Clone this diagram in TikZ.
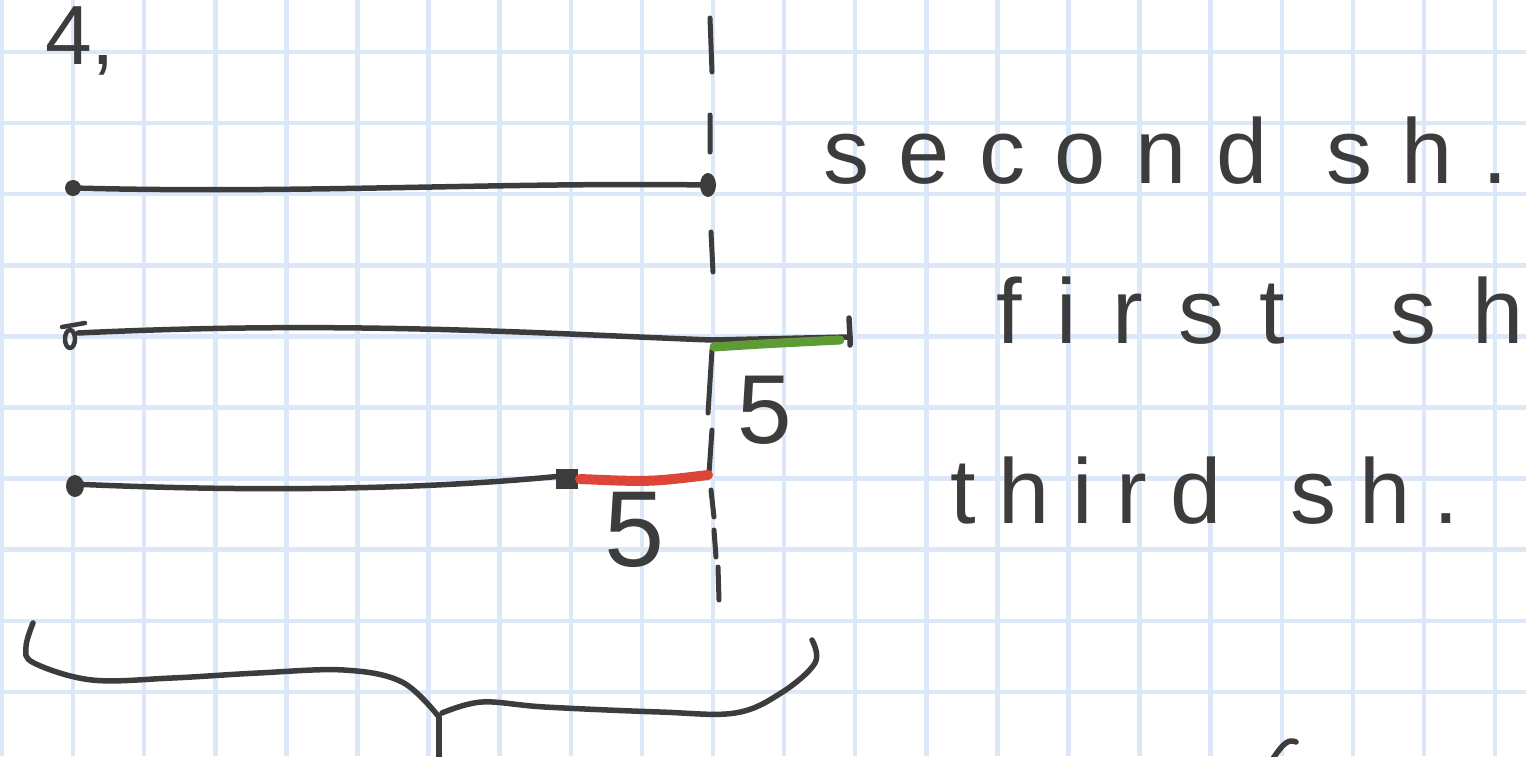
\documentclass[tikz,border=0pt]{standalone}
\usepackage{fontspec}
\setmainfont{Liberation Sans}
\definecolor{gridc}{HTML}{DCE8F8}
\definecolor{inkc}{HTML}{3C3C3C}
\definecolor{greenc}{HTML}{5E9B36}
\definecolor{redc}{HTML}{DC4538}
\tikzset{
  gridline/.style={draw=gridc, line width=4.5pt},
  ink/.style={draw=inkc, line width=5.5pt, line cap=round, line join=round},
  dashink/.style={draw=inkc, line width=5pt, line cap=round},
  greenline/.style={draw=greenc, line width=9pt, line cap=round},
  redline/.style={draw=redc, line width=10pt, line cap=round},
  txt/.style={text=inkc, inner sep=0pt, font=\fontsize{92}{92}\selectfont},
}
\begin{document}
\begin{tikzpicture}[x=1pt,y=-1pt]
\useasboundingbox (0,0) rectangle (1526,756);
\fill[white] (0,0) rectangle (1526,756);
\begin{scope}
\clip (0,0) rectangle (1526,756);
\foreach \k in {0,...,9} \draw[gridline] (0,52+71.1*\k) -- (1526,52+71.1*\k);
\foreach \k in {0,...,21} \draw[gridline] (2+71.1*\k,0) -- (2+71.1*\k,756);
\end{scope}

% heading
\node[txt, anchor=base west, font=\fontsize{84}{84}\selectfont] (n4) at (45,64) {4,};

% dashed vertical
\draw[dashink] (710,18) -- (712,72) (710,115) -- (710,152) (711,232) -- (713,272)
  (712,350) -- (708,413) (712,430) -- (709,473) (711,490) -- (714,517)
  (714,530) -- (716,557) (718,567) -- (719,600);

% segment 1 (second sh.)
\coordinate (s1a) at (73,188);
\coordinate (s1b) at (708,185);
\draw[ink] (s1a) .. controls (300,194) and (500,182) .. (s1b);
\fill[inkc] (s1a) circle (8);
\fill[inkc] (s1b) ellipse (8 and 12);

% segment 2 (first sh)
\coordinate (s2a) at (78,333);
\coordinate (s2m) at (712,340);
\coordinate (s2b) at (850,337);
\draw[ink] (s2a) .. controls (350,320) and (550,334) .. (s2m) -- (s2b);
\draw[ink] (849,318) -- (s2b) -- (850,345);
\draw[ink, line width=4.5pt] (62,327) -- (85,323);
\draw[ink, line width=4.5pt] (70,339) ellipse (5 and 9);

\coordinate (g1) at (714,347);
\coordinate (g2) at (840,340);
\draw[greenline] (g1) .. controls (760,344) .. (g2);

% segment 3 (third sh.)
\coordinate (s3a) at (73,484);
\coordinate (s3b) at (562,476);
\draw[ink] (s3a) .. controls (250,492) and (420,490) .. (s3b);
\fill[inkc] (556,469) rectangle (578,489);
\fill[inkc] (75,486) ellipse (9 and 11);
\coordinate (r1) at (580,479);
\coordinate (r2) at (708,475);
\draw[redline] (r1) .. controls (650,482) .. (r2);

% labels 5
\node[txt, font=\fontsize{98}{98}\selectfont] (f5g) at (765,410) {5};
\node[txt, font=\fontsize{108}{108}\selectfont] (f5r) at (635,530) {5};

% words
\node[txt, anchor=base west] (tsec) at (823,183)
  {\makebox[685pt][s]{s\hfill e\hfill c\hfill o\hfill n\hfill d\hfill\hfill s\hfill h\hfill .}};
\node[txt, anchor=base west] (tfir) at (996,343)
  {\makebox[527pt][s]{f\hfill i\hfill r\hfill s\hfill t\hfill\hfill\hfill s\hfill h}};
\node[txt, anchor=base west] (tthi) at (950,523)
  {\makebox[509pt][s]{t\hfill h\hfill i\hfill r\hfill d\hfill\hfill\hfill s\hfill h\hfill .}};

% brace
\draw[ink] plot[smooth, tension=0.6] coordinates {(33,623) (26,647) (34,663) (92,680) (172,678) (258,673) (344,670) (402,682) (439,717)};
\draw[ink] plot[smooth, tension=0.6] coordinates {(442,713) (482,702) (545,707) (660,712) (735,713) (781,693) (815,663) (812,640)};
\coordinate (bt) at (439,717);
\coordinate (bb) at (439,760);
\draw[ink] (bt) -- (bb);

% hook bottom right
\draw[ink] (1272,760) .. controls (1282,745) and (1288,738) .. (1296,742);
\end{tikzpicture}
\end{document}
